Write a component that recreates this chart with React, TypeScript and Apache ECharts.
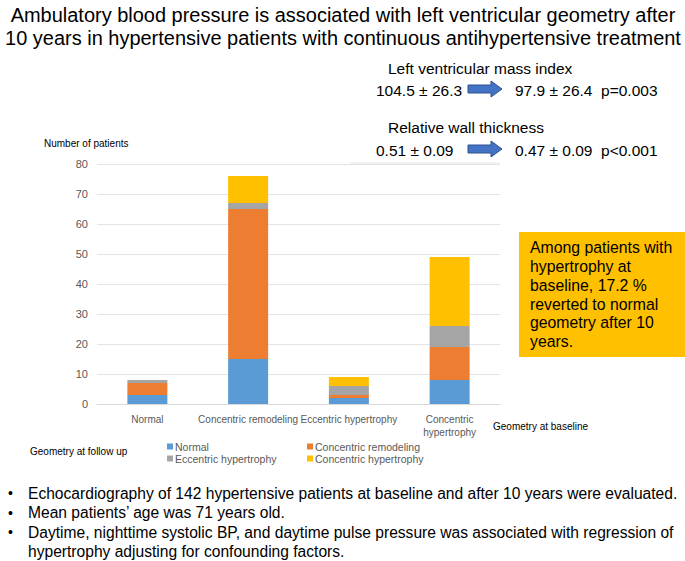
import React, { useEffect, useRef } from "react";
import * as echarts from "echarts";

const categories = ["Normal", "Concentric remodeling", "Eccentric hypertrophy", "Concentric\nhypertrophy"];
const followNormal = [3, 15, 2, 8];
const followConcentricRemodeling = [4, 50, 1, 11];
const followEccentricHypertrophy = [1, 2, 3, 7];
const followConcentricHypertrophy = [0, 9, 3, 23];
const yTicks = { min: 0, max: 80, interval: 10 };

const titleLines = [
  "Ambulatory blood pressure is associated with left ventricular geometry after",
  "10 years in hypertensive patients with continuous antihypertensive treatment",
];
const boxLines = [
  "Among patients with",
  "hypertrophy at",
  "baseline, 17.2 %",
  "reverted to normal",
  "geometry after 10",
  "years.",
];
const bullets = [
  "Echocardiography of 142 hypertensive patients at baseline and after 10 years were evaluated.",
  "Mean patients\u2019 age was 71 years old.",
  "Daytime, nighttime systolic BP, and daytime pulse pressure was associated with regression of",
  "hypertrophy adjusting for confounding factors.",
];

const FONT = "'Liberation Sans', Arial, sans-serif";

function arrow(x: number, y: number) {
  return {
    type: "polygon",
    shape: {
      points: [
        [x, y - 4],
        [x + 23, y - 4],
        [x + 23, y - 8],
        [x + 34, y],
        [x + 23, y + 8],
        [x + 23, y + 4],
        [x, y + 4],
      ],
    },
    style: { fill: "#4472C4", stroke: "#2F528F", lineWidth: 1 },
  };
}

function txt(text: string, x: number, y: number, size: number, opts: any = {}) {
  return {
    type: "text",
    x,
    y,
    scaleX: opts.scaleX ?? 1,
    style: {
      text,
      x: 0,
      y: 0,
      font: `${size}px ${FONT}`,
      fill: opts.fill ?? "#000",
      textAlign: opts.align ?? "left",
      textVerticalAlign: "middle",
    },
  };
}

export default function App() {
  const ref = useRef<HTMLDivElement>(null);
  useEffect(() => {
    const chart = echarts.init(ref.current!, undefined, { renderer: "svg" });
    const colors = ["#5B9BD5", "#ED7D31", "#A5A5A5", "#FFC000"];
    const names = ["Normal", "Concentric remodeling", "Eccentric hypertrophy", "Concentric hypertrophy"];
    const data = [followNormal, followConcentricRemodeling, followEccentricHypertrophy, followConcentricHypertrophy];

    const graphic: any[] = [];
    titleLines.forEach((t, i) =>
      graphic.push(txt(t, 343, 14 + i * 23, 21, { align: "center", scaleX: 0.951 }))
    );
    graphic.push(txt("Left ventricular mass index", 388, 68, 15.5));
    graphic.push(txt("104.5 \u00b1 26.3", 376, 90, 15.5));
    graphic.push(arrow(468, 89));
    graphic.push(txt("97.9 \u00b1 26.4  p=0.003", 515, 90, 15.5));
    graphic.push(txt("Relative wall thickness", 388, 127, 15.5));
    graphic.push(txt("0.51 \u00b1 0.09", 376, 150, 15.5));
    graphic.push(arrow(468, 149));
    graphic.push(txt("0.47 \u00b1 0.09  p<0.001", 515, 150, 15.5));
    graphic.push({
      type: "line",
      shape: { x1: 350, y1: 163, x2: 500, y2: 163 },
      style: { stroke: "#E4E4E4", lineWidth: 1 },
    });
    graphic.push({
      type: "rect",
      shape: { x: 519, y: 232, width: 166, height: 125 },
      style: { fill: "#FFC000" },
    });
    boxLines.forEach((t, i) => graphic.push(txt(t, 530, 247 + i * 18.8, 17, { scaleX: 0.93 })));
    graphic.push(txt("Number of patients", 44, 143, 10));
    graphic.push(txt("Geometry at baseline", 493, 426, 10));
    graphic.push(txt("Geometry at follow up", 30, 451, 10));
    bullets.forEach((t, i) => {
      if (i < 3) graphic.push(txt("\u2022", 8, 493 + i * 19.5, 14));
      graphic.push(txt(t, 28, 493 + i * 19.5, 15.6));
    });

    chart.setOption({
      animation: false,
      textStyle: { fontFamily: FONT },
      grid: { left: 97, right: 185, top: 164, bottom: 157 },
      xAxis: {
        type: "category",
        data: categories,
        axisLine: { lineStyle: { color: "#D9D9D9" } },
        axisTick: { show: false },
        axisLabel: { color: "#595959", fontSize: 10, margin: 9, lineHeight: 13, interval: 0 },
      },
      yAxis: {
        type: "value",
        ...yTicks,
        axisLabel: { color: "#595959", fontSize: 11, margin: 9 },
        splitLine: { lineStyle: { color: "#E4E4E4" } },
      },
      legend: [
        {
          data: [names[0], names[2]],
          orient: "vertical",
          left: 162,
          top: 436,
          itemWidth: 6,
          itemHeight: 6,
          itemGap: 1,
          icon: "rect",
          textStyle: { color: "#595959", fontSize: 10.5, lineHeight: 11, padding: [0, 0, 0, -3] },
        },
        {
          data: [names[1], names[3]],
          orient: "vertical",
          left: 302,
          top: 436,
          itemWidth: 6,
          itemHeight: 6,
          itemGap: 1,
          icon: "rect",
          textStyle: { color: "#595959", fontSize: 10.5, lineHeight: 11, padding: [0, 0, 0, -3] },
        },
      ],
      series: names.map((n, i) => ({
        name: n,
        type: "bar",
        stack: "total",
        barWidth: 40,
        data: data[i],
        itemStyle: { color: colors[i] },
      })),
      graphic,
    });
    return () => chart.dispose();
  }, []);
  return <div ref={ref} style={{ width: 685, height: 561, position: "absolute", left: 0, top: 0 }} />;
}
